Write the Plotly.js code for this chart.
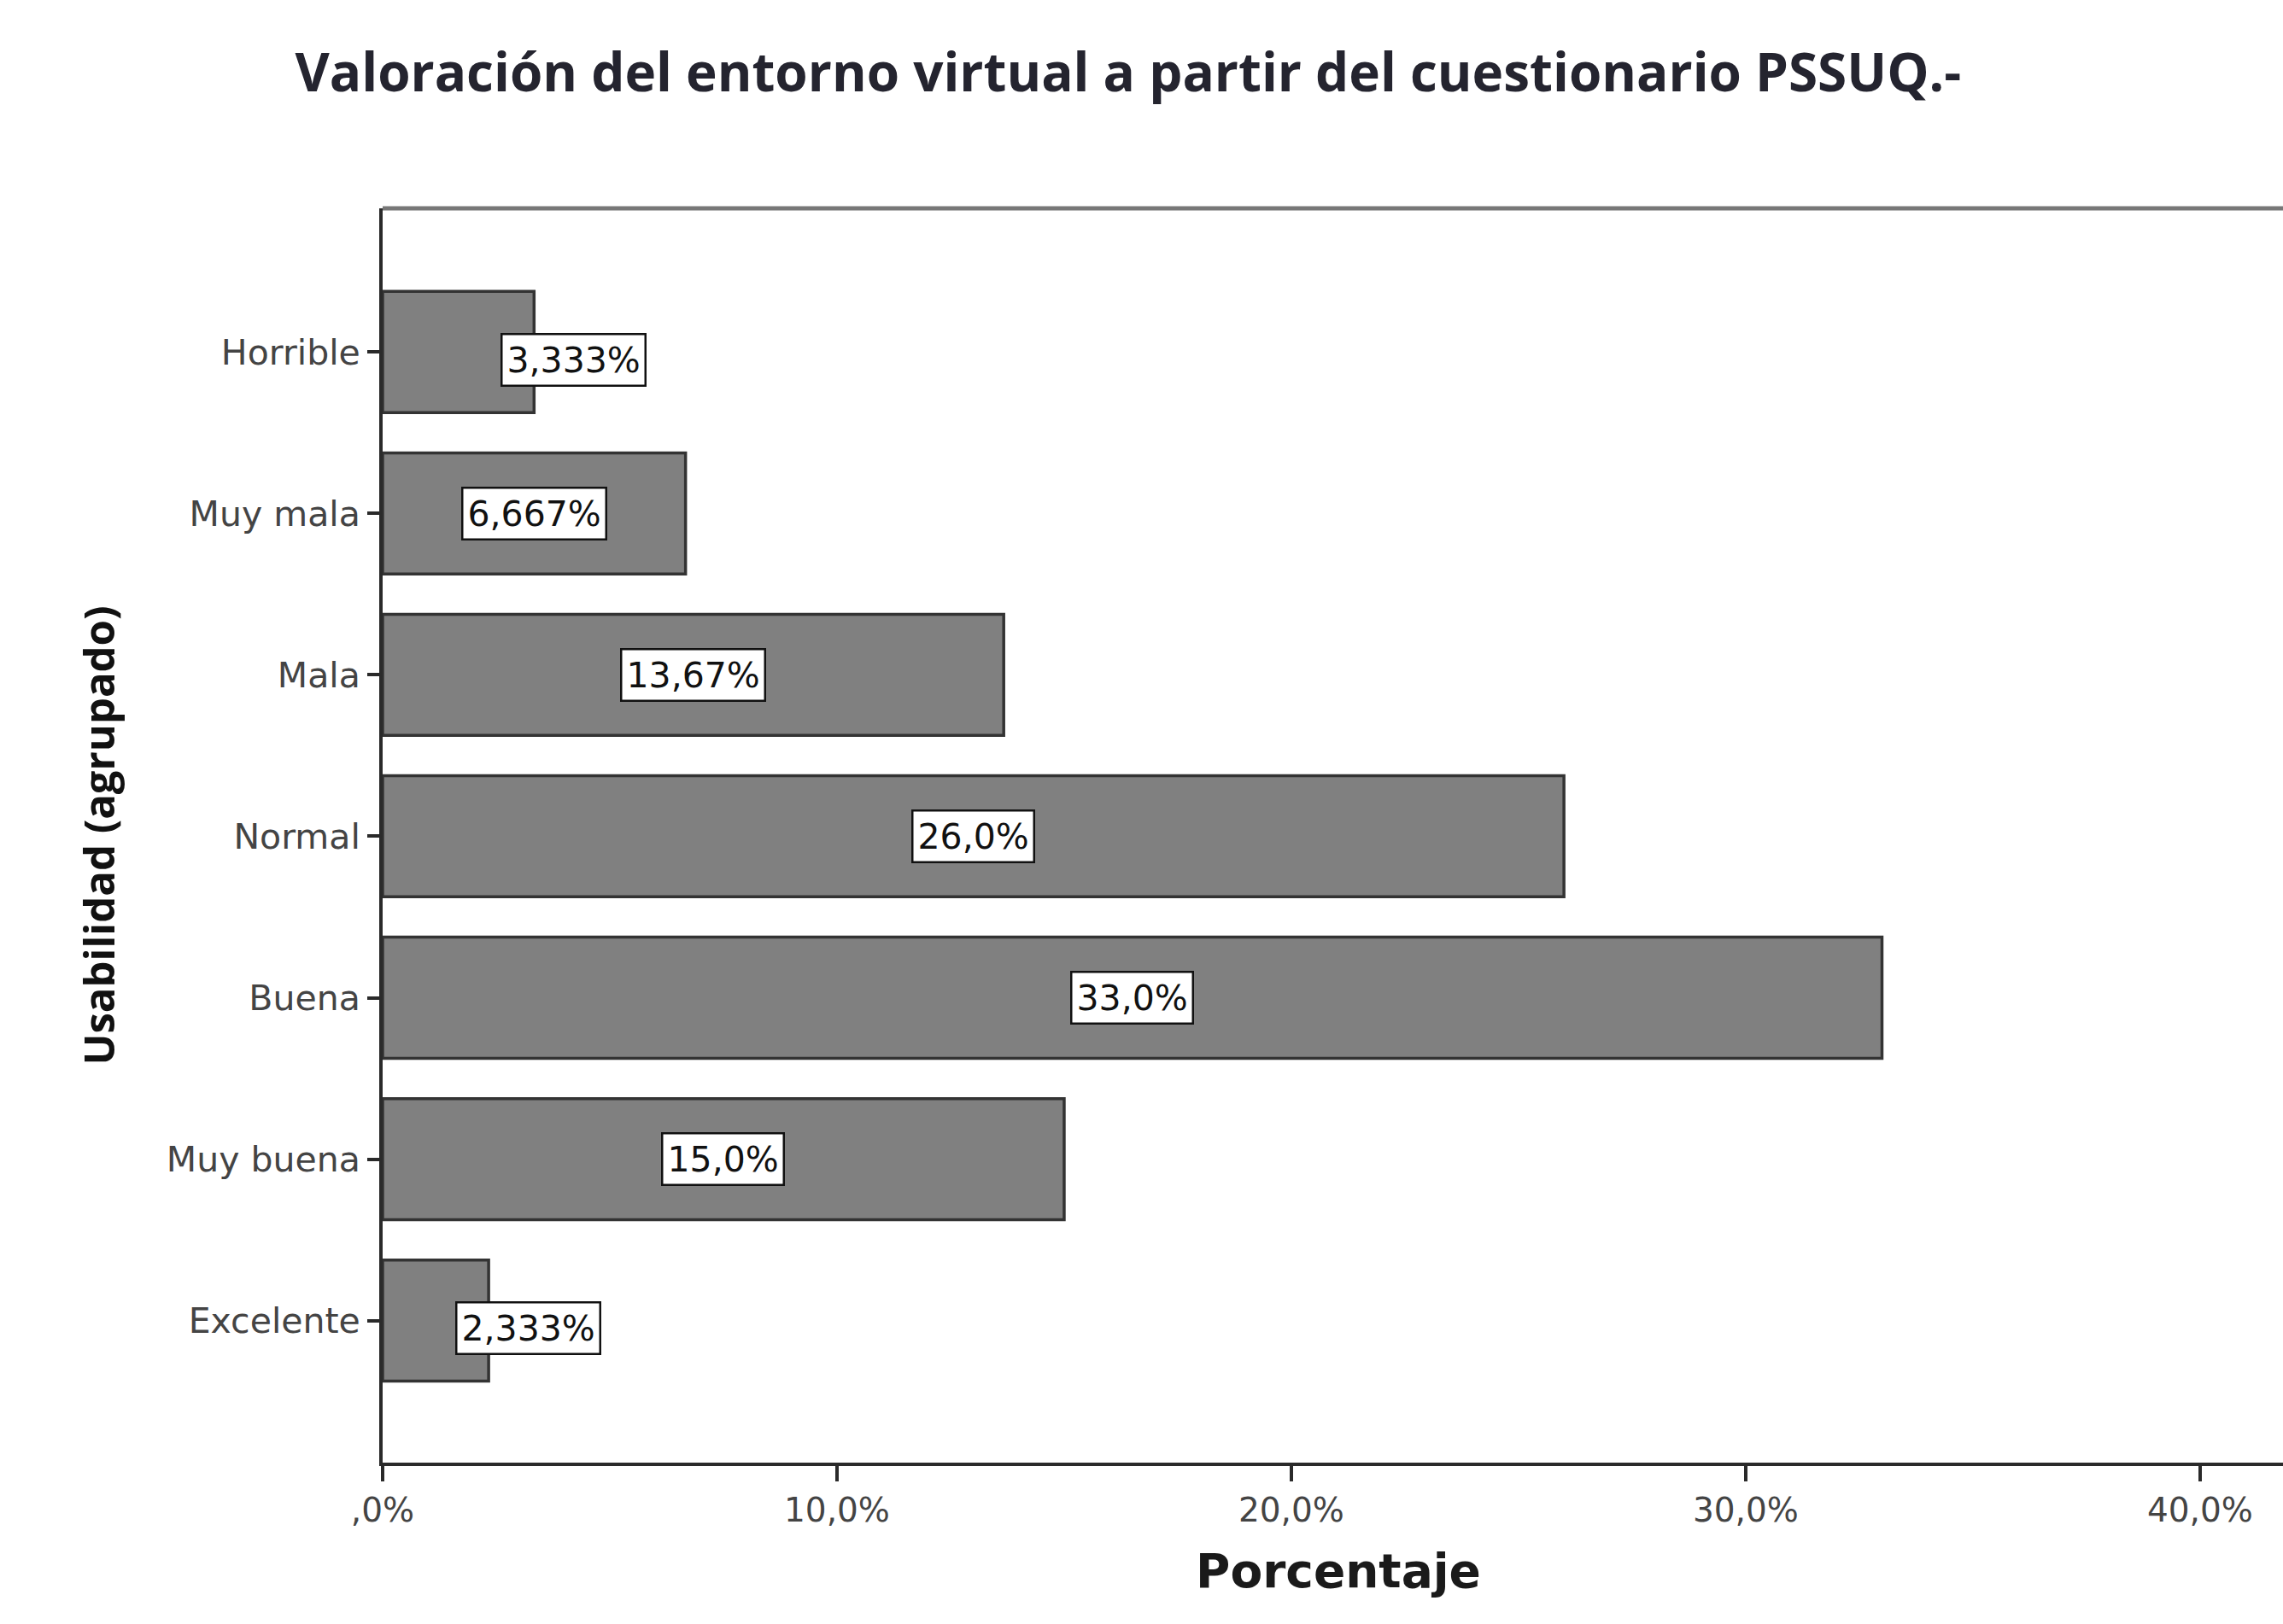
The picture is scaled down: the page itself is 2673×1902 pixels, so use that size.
<!DOCTYPE html>
<html>
<head>
<meta charset="utf-8">
<script src="https://cdn.plot.ly/plotly-3.0.1.min.js"></script>
<style>
html,body{margin:0;padding:0;background:#fff;overflow:hidden;width:2673px;height:1902px;}
#chart{width:2690px;height:1902px;}
</style>
</head>
<body>
<div id="chart"></div>
<script>
// Data (top to bottom)
const categories = ["Horrible", "Muy mala", "Mala", "Normal", "Buena", "Muy buena", "Excelente"];
const percentages = [3.333, 6.667, 13.67, 26.0, 33.0, 15.0, 2.333];
const valueLabels = ["3,333%", "6,667%", "13,67%", "26,0%", "33,0%", "15,0%", "2,333%"];
const xTickValues = [0, 10, 20, 30, 40];
const xTickLabels = [",0%", "10,0%", "20,0%", "30,0%", "40,0%"];

const trace = {
  type: 'bar',
  orientation: 'h',
  y: categories,
  x: percentages,
  marker: {color: '#808080', line: {color: '#333333', width: 3.5}},
  hoverinfo: 'none'
};

const annotations = categories.map((c, i) => {
  const v = percentages[i];
  const small = v < 5;
  return {
    x: small ? v : v / 2,
    y: c,
    xref: 'x', yref: 'y',
    text: valueLabels[i],
    showarrow: false,
    xanchor: 'center',
    yanchor: 'middle',
    xshift: small ? 46 : 0,
    yshift: small ? -9 : 0,
    bgcolor: '#ffffff',
    bordercolor: '#111111',
    borderwidth: 2.5,
    borderpad: 5,
    font: {family: 'DejaVu Sans, Arial, sans-serif', size: 41, color: '#111111'}
  };
});

const layout = {
  width: 2690,
  height: 1902,
  paper_bgcolor: '#ffffff',
  plot_bgcolor: '#ffffff',
  margin: {l: 448, r: 4, t: 244, b: 189},
  showlegend: false,
  bargap: 0.25,
  title: {
    text: 'Valoración del entorno virtual a partir del cuestionario PSSUQ.-',
    x: 0.491, xref: 'container', xanchor: 'center',
    y: 0.955, yref: 'container', yanchor: 'middle',
    font: {family: '"Open Sans", Arial, sans-serif', size: 62, color: '#24242f', weight: 'bold'}
  },
  xaxis: {
    range: [0, 42.07],
    tickvals: xTickValues,
    ticktext: xTickLabels,
    showgrid: false,
    zeroline: false,
    showline: true,
    linecolor: '#2a2a2a',
    linewidth: 4,
    ticks: 'outside',
    ticklen: 18,
    tickwidth: 4,
    tickcolor: '#2a2a2a',
    tickfont: {family: 'DejaVu Sans, Arial, sans-serif', size: 39, color: '#444444'},
    title: {
      text: 'Porcentaje',
      standoff: 32,
      font: {family: 'DejaVu Sans, Verdana, sans-serif', size: 55, color: '#1a1a1a', weight: 'bold'}
    }
  },
  yaxis: {
    type: 'category',
    categoryorder: 'array',
    categoryarray: categories,
    range: [6.88, -0.89],
    showgrid: false,
    zeroline: false,
    showline: true,
    linecolor: '#2a2a2a',
    linewidth: 4,
    ticks: 'outside',
    ticklen: 14,
    tickwidth: 4,
    tickcolor: '#2a2a2a',
    tickfont: {family: 'DejaVu Sans, Arial, sans-serif', size: 41, color: '#444444'},
    title: {
      text: 'Usabilidad (agrupado)',
      standoff: 46,
      font: {family: '"Open Sans", Arial, sans-serif', size: 49, color: '#111111', weight: 'bold'}
    }
  },
  shapes: [{
    type: 'line', xref: 'paper', yref: 'paper',
    x0: 0, x1: 1, y0: 1, y1: 1,
    line: {color: '#777777', width: 5}
  }],
  annotations: annotations
};

Plotly.newPlot('chart', [trace], layout, {displayModeBar: false, staticPlot: true});
</script>
</body>
</html>
